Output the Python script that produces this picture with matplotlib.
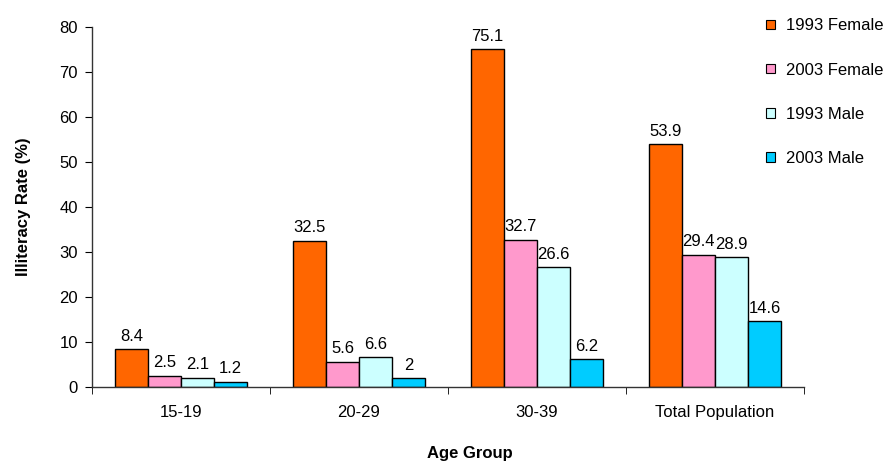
import numpy as np
import matplotlib
matplotlib.use('Agg')
import matplotlib.pyplot as plt
from matplotlib.patches import Patch

# ---------------------------------------------------------------------------
# Data
# ---------------------------------------------------------------------------
CATEGORIES = ['15-19', '20-29', '30-39', 'Total Population']
SERIES = ['1993 Female', '2003 Female', '1993 Male', '2003 Male']
FEMALE_1993 = [8.4, 32.5, 75.1, 53.9]
FEMALE_2003 = [2.5, 5.6, 32.7, 29.4]
MALE_1993 = [2.1, 6.6, 26.6, 28.9]
MALE_2003 = [1.2, 2, 6.2, 14.6]
COLORS = ['#FF6600', '#FF99CC', '#CCFFFF', '#00CCFF']

plt.rcParams['font.family'] = ['Liberation Sans', 'DejaVu Sans']
FS = 12

fig = plt.figure(figsize=(8.88, 4.61), dpi=100)
ax = fig.add_axes([0.1036, 0.1605, 0.8018, 0.781])

values = [FEMALE_1993, FEMALE_2003, MALE_1993, MALE_2003]
x = np.arange(len(CATEGORIES))
bw = 0.185
offsets = (np.arange(4) - 1.5) * bw

for i, (vals, col) in enumerate(zip(values, COLORS)):
    bars = ax.bar(x + offsets[i], vals, bw, color=col, edgecolor='black',
                  linewidth=1.0, label=SERIES[i])
    for b, v in zip(bars, vals):
        ax.text(b.get_x() + b.get_width() / 2, v + 1.2, f'{v:g}',
                ha='center', va='bottom', fontsize=FS)

ax.set_xlim(-0.5, len(CATEGORIES) - 0.5)
ax.set_ylim(0, 80)
ax.set_yticks(range(0, 81, 10))
ax.set_xticks(x)
ax.set_xticklabels(CATEGORIES, fontsize=FS)
ax.set_xticks(np.arange(-0.5, len(CATEGORIES)), minor=True)
ax.tick_params(axis='x', which='major', length=0, pad=13)
ax.tick_params(axis='x', which='minor', length=5, direction='out')
ax.tick_params(axis='y', labelsize=FS, length=5, direction='out', pad=5)

for s in ('top', 'right'):
    ax.spines[s].set_visible(False)
for s in ('left', 'bottom'):
    ax.spines[s].set_linewidth(1.0)
    ax.spines[s].set_color('#333333')

fig.text(0.026, 0.551, 'Illiteracy Rate (%)', rotation=90, ha='center',
         va='center', fontsize=12, fontweight='bold')
fig.text(0.529, 0.017, 'Age Group', ha='center', va='center',
         fontsize=12, fontweight='bold')

handles = [Patch(facecolor=c, edgecolor='black', linewidth=0.8, label=s)
           for c, s in zip(COLORS, SERIES)]
fig.legend(handles=handles, loc='upper left', bbox_to_anchor=(0.863, 0.96),
           frameon=False, fontsize=FS, handlelength=0.5, handleheight=0.5,
           handletextpad=0.65, labelspacing=1.75, borderpad=0,
           borderaxespad=0)

fig.savefig('out.png', dpi=100)
